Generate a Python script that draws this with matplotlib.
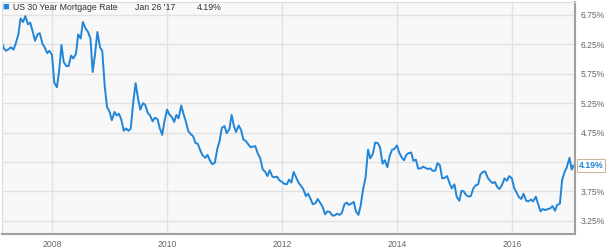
import matplotlib
matplotlib.use('Agg')
import matplotlib.pyplot as plt
import pandas as pd

plt.rcParams['font.family'] = ['Liberation Sans', 'DejaVu Sans']

# semi-monthly readings (1st and 15th), Feb 2007 .. Jan 2017, plus last print
rate_2007 = [6.34, 6.29, 6.18, 6.14, 6.17, 6.20, 6.16, 6.26, 6.42, 6.69, 6.63,
             6.73, 6.59, 6.62, 6.46, 6.31, 6.42, 6.44, 6.26, 6.20, 6.10, 6.14]
rate_2008 = [6.07, 5.60, 5.52, 5.80, 6.24, 5.95, 5.88, 5.88, 6.06, 6.01, 6.09,
             6.42, 6.35, 6.63, 6.52, 6.47, 6.35, 5.78, 6.10, 6.46, 6.20, 6.14,
             5.53, 5.19]
rate_2009 = [5.10, 4.96, 5.10, 5.04, 5.07, 4.98, 4.78, 4.82, 4.78, 4.82, 5.29,
             5.59, 5.32, 5.14, 5.25, 5.22, 5.08, 5.04, 4.94, 5.00, 4.98, 4.83,
             4.71, 4.94]
rate_2010 = [5.14, 5.06, 5.01, 4.93, 5.05, 4.99, 5.21, 5.07, 4.93, 4.78, 4.72,
             4.69, 4.57, 4.56, 4.44, 4.36, 4.32, 4.37, 4.27, 4.21, 4.24, 4.46,
             4.61, 4.83]
rate_2011 = [4.86, 4.74, 4.81, 5.05, 4.87, 4.76, 4.87, 4.80, 4.63, 4.61, 4.55,
             4.50, 4.51, 4.52, 4.39, 4.32, 4.12, 4.09, 4.01, 4.11, 4.00, 3.99,
             4.00, 3.94]
rate_2012 = [3.91, 3.88, 3.87, 3.95, 3.90, 4.08, 3.98, 3.90, 3.84, 3.79, 3.67,
             3.71, 3.62, 3.53, 3.55, 3.62, 3.55, 3.49, 3.36, 3.41, 3.40, 3.34,
             3.34, 3.37]
rate_2013 = [3.35, 3.38, 3.53, 3.56, 3.52, 3.54, 3.57, 3.41, 3.35, 3.51, 3.81,
             3.98, 4.46, 4.31, 4.39, 4.58, 4.57, 4.50, 4.22, 4.28, 4.16, 4.35,
             4.46, 4.47]
rate_2014 = [4.53, 4.41, 4.32, 4.28, 4.37, 4.40, 4.41, 4.27, 4.29, 4.14, 4.14,
             4.17, 4.15, 4.13, 4.14, 4.10, 4.10, 4.23, 4.19, 3.97, 3.98, 4.01,
             3.89, 3.80]
rate_2015 = [3.87, 3.66, 3.59, 3.76, 3.75, 3.69, 3.66, 3.67, 3.80, 3.85, 3.87,
             4.04, 4.08, 4.09, 3.98, 3.93, 3.89, 3.91, 3.82, 3.79, 3.87, 3.97,
             3.93, 4.01]
rate_2016 = [3.97, 3.81, 3.72, 3.65, 3.62, 3.71, 3.59, 3.58, 3.61, 3.58, 3.66,
             3.54, 3.41, 3.45, 3.43, 3.45, 3.46, 3.50, 3.42, 3.52, 3.54, 3.94,
             4.08, 4.16]
rate_2017 = [4.32, 4.12, 4.19]

rates = (rate_2007 + rate_2008 + rate_2009 + rate_2010 + rate_2011 + rate_2012
         + rate_2013 + rate_2014 + rate_2015 + rate_2016 + rate_2017)
dates = list(pd.date_range('2007-02-01', '2017-01-15', freq='SMS')) + [pd.Timestamp('2017-01-26')]

year_ticks = ['2008', '2010', '2012', '2014', '2016']
pct_ticks = [3.25, 3.75, 4.25, 4.75, 5.25, 5.75, 6.25, 6.75]

blue = '#2185d8'
W, H = 607, 248
fig = plt.figure(figsize=(W / 100, H / 100), dpi=100)
ax = fig.add_axes([2 / W, 14 / H, 573 / W, 232 / H])
ax.set_facecolor('#f8f8f8')

ax.plot(dates, rates, color=blue, lw=1.4, solid_joinstyle='round')

ax.set_xlim(pd.Timestamp('2007-02-17'), pd.Timestamp('2017-02-05'))
ax.set_ylim(3.025, 6.97)

ax.set_xticks([pd.Timestamp(y + '-01-01') for y in year_ticks])
ax.set_xticklabels(year_ticks)
ax.set_yticks(pct_ticks)
ax.set_yticklabels(['%.2f%%' % v for v in pct_ticks])
ax.yaxis.tick_right()
ax.tick_params(axis='both', length=0, labelsize=6.2, colors='#666666')
ax.tick_params(axis='x', pad=4)
ax.tick_params(axis='y', pad=4)
ax.grid(True, color='#e2e2e2', lw=1)
ax.set_axisbelow(True)

for side in ['left', 'top']:
    ax.spines[side].set_color('#dddddd')
    ax.spines[side].set_linewidth(0.8)
for side in ['bottom', 'right']:
    ax.spines[side].set_color('#a0a0a0')
    ax.spines[side].set_linewidth(1.5)

# last value flag
ax.annotate('4.19%', xy=(1.0, rates[-1]), xycoords=('axes fraction', 'data'),
            xytext=(2.5, 0), textcoords='offset points', va='center', ha='left',
            fontsize=6.2, color=blue, fontweight='bold', annotation_clip=False,
            zorder=5,
            bbox=dict(boxstyle='square,pad=0.2', fc='white', ec='#c9b99c', lw=0.8))

# header legend
fig.text(6 / W, 1 - 7 / H, '\u25a0', color=blue, fontsize=8, va='center', ha='center')
fig.text(13 / W, 1 - 7 / H, 'US 30 Year Mortgage Rate', color='#333333', fontsize=6.3, va='center')
fig.text(135 / W, 1 - 7 / H, "Jan 26 '17", color='#333333', fontsize=6.3, va='center')
fig.text(197 / W, 1 - 7 / H, '4.19%', color='#333333', fontsize=6.3, va='center')

fig.savefig('out.png', dpi=100)
